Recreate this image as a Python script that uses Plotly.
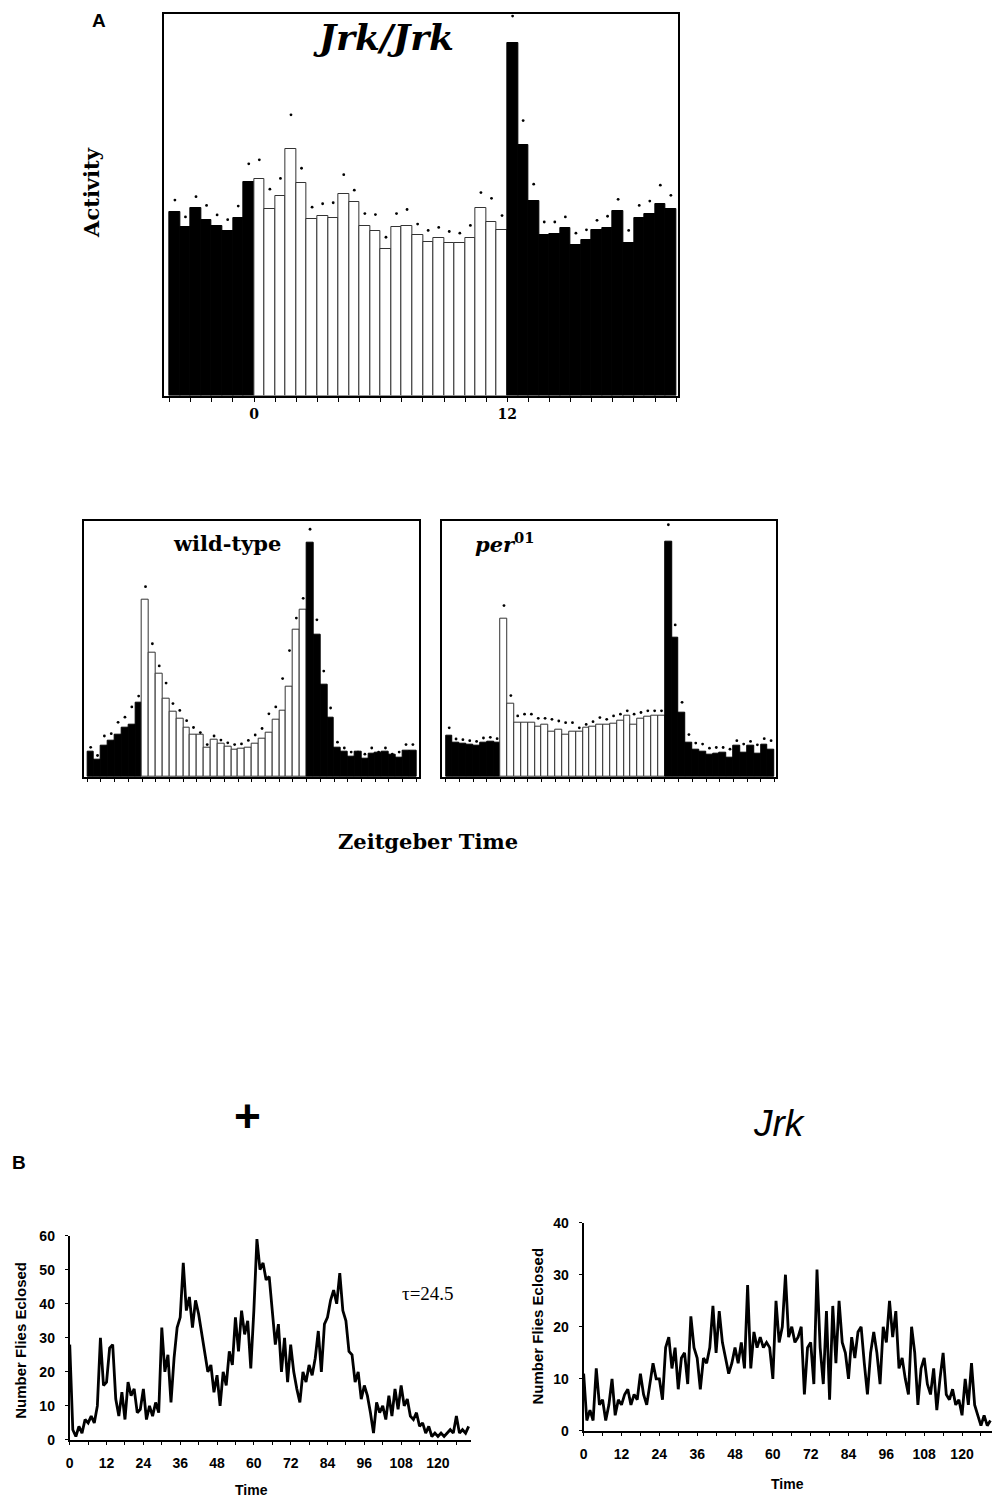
import plotly.graph_objects as go

# ---------------- Panel A data (half-hour bins, Zeitgeber time -4 .. 20) ----------------
zt_bins = [-4 + 0.25 + 0.5 * i for i in range(48)]

jrk_activity = [54.3, 49.8, 55.5, 52.0, 50.2, 48.5, 52.5, 63.1,
                64.0, 55.2, 59.0, 73.0, 62.7, 52.2, 53.0, 52.5, 59.7, 57.2, 50.0, 48.7,
                43.3, 49.7, 50.2, 47.4, 45.3, 46.7, 45.2, 45.2, 46.7, 55.3, 51.3, 48.8,
                104.2, 74.0, 57.5, 47.5, 47.8, 49.5, 44.5, 46.0, 49.0, 49.5, 54.5, 45.0,
                52.5, 53.8, 56.7, 55.0]
jrk_err = [57.8, 52.8, 58.8, 56.2, 53.4, 52.0, 56.0, 68.5,
           69.7, 61.0, 64.2, 83.0, 67.2, 55.7, 56.7, 57.0, 65.3, 60.7, 53.8, 53.5,
           46.8, 53.8, 55.0, 50.7, 48.8, 49.7, 48.5, 48.0, 50.3, 60.0, 58.3, 53.2,
           112.2, 81.3, 62.5, 51.3, 51.3, 52.8, 48.0, 49.0, 51.8, 53.0, 58.0, 48.8,
           56.2, 57.5, 62.2, 59.2]

wt_activity = [7.5, 5.2, 9.2, 10.5, 12.5, 14.5, 15.3, 21.7,
               52.0, 36.3, 30.2, 23.0, 19.0, 17.0, 14.5, 12.5, 12.5, 8.5, 11.0, 9.7,
               9.0, 8.0, 8.2, 8.7, 9.7, 11.3, 13.0, 16.7, 19.5, 26.5, 43.0, 49.0,
               68.5, 41.7, 27.0, 17.3, 8.5, 7.3, 6.0, 7.3, 5.5, 6.7, 7.0, 7.3,
               6.5, 5.8, 7.7, 7.7]
wt_err = [8.7, 6.3, 12.0, 12.7, 16.0, 17.5, 20.5, 23.7,
          55.7, 39.0, 32.5, 27.5, 21.5, 19.5, 16.5, 14.5, 13.0, 9.5, 12.0, 10.8,
          10.0, 9.5, 9.7, 10.7, 12.3, 14.2, 18.5, 20.5, 28.8, 37.0, 46.5, 52.3,
          72.5, 46.0, 31.0, 20.2, 10.2, 8.5, 7.3, 7.3, 6.7, 8.5, 7.3, 8.5,
          6.7, 7.3, 9.5, 9.5]

per_activity = [12.3, 10.0, 9.7, 9.5, 9.2, 10.2, 10.5, 10.0,
                46.7, 21.5, 16.0, 16.0, 16.0, 14.9, 15.5, 13.5, 14.0, 12.5, 13.5, 13.3,
                14.5, 14.9, 15.3, 15.5, 15.7, 16.5, 18.0, 15.3, 17.3, 17.7, 18.0, 18.0,
                69.3, 41.0, 19.0, 10.2, 8.0, 7.5, 6.5, 7.0, 7.3, 5.7, 9.3, 7.3,
                9.3, 7.0, 9.5, 8.0]
per_err = [14.5, 11.2, 11.0, 10.7, 10.5, 11.5, 11.7, 11.3,
           50.5, 24.0, 18.0, 18.5, 18.5, 17.3, 17.3, 17.0, 16.5, 16.0, 16.0, 14.5,
           15.5, 16.3, 17.5, 17.0, 18.0, 18.5, 19.5, 18.5, 19.0, 19.5, 19.5, 19.5,
           74.3, 44.8, 22.0, 12.5, 10.0, 9.7, 8.5, 8.7, 8.7, 8.2, 10.7, 9.7,
           10.5, 9.5, 11.3, 10.7]

# ---------------- Panel B data (eclosion, hourly) ----------------
time_hours_wt = list(range(0, 131))
eclosed_wt = [28, 3, 1, 4, 2, 6, 5, 7, 5, 10, 30, 16, 17, 27, 28, 12, 7, 14, 6, 17,
              13, 15, 8, 9, 15, 6, 10, 7, 11, 8, 33, 20, 25, 11, 24, 33, 36, 52, 38, 42,
              33, 41, 37, 31, 25, 20, 22, 14, 19, 10, 20, 16, 26, 22, 36, 26, 38, 31, 35, 21,
              38, 59, 50, 52, 47, 48, 38, 28, 34, 20, 30, 17, 28, 20, 15, 11, 20, 17, 22, 19,
              24, 32, 20, 34, 36, 41, 44, 40, 49, 38, 35, 26, 25, 17, 20, 12, 16, 13, 8, 2,
              11, 8, 10, 6, 13, 7, 15, 9, 16, 10, 12, 7, 6, 8, 4, 5, 2, 4, 1, 2,
              1, 2, 1, 2, 3, 2, 7, 2, 3, 2, 4]

time_hours_jrk = list(range(0, 130))
eclosed_jrk = [11, 2, 4, 2, 12, 5, 6, 2, 5, 10, 3, 6, 5, 7, 8, 5, 7, 6, 11, 7,
               5, 9, 13, 10, 10, 6, 16, 18, 12, 16, 8, 14, 15, 9, 22, 16, 14, 8, 14, 13,
               16, 24, 15, 23, 17, 14, 11, 13, 16, 13, 17, 12, 28, 12, 19, 16, 18, 16, 17, 16,
               10, 25, 17, 20, 30, 18, 20, 17, 18, 20, 7, 16, 17, 9, 31, 16, 9, 23, 6, 24,
               13, 25, 17, 15, 10, 18, 14, 19, 20, 13, 7, 15, 19, 15, 9, 20, 17, 25, 18, 23,
               12, 14, 10, 7, 20, 15, 5, 12, 14, 9, 7, 12, 4, 10, 15, 7, 6, 8, 5, 6,
               3, 10, 5, 13, 5, 3, 1, 3, 1, 2]

hour_ticks = list(range(-4, 21))
b_ticks = list(range(0, 127, 6))

W, H = 992, 1500


def fx(px):
    return min(1.0, max(0.0, (px - 2) / W))


def fy(py):
    # small vertical correction so the rendered page matches the reference positions
    return min(1.0, max(0.0, 1 - ((py - 10) / 0.988) / H))


def bar_colors(bins):
    return ["black" if (b < 0 or b >= 12) else "white" for b in bins]


def bar_edges(bins):
    return ["black" if (b < 0 or b >= 12) else "#333333" for b in bins]


fig = go.Figure()

panels = [
    ("x", "y", jrk_activity, jrk_err),
    ("x2", "y2", wt_activity, wt_err),
    ("x3", "y3", per_activity, per_err),
]
for xa, ya, vals, errs in panels:
    fig.add_trace(go.Bar(x=zt_bins, y=vals, width=0.5, xaxis=xa, yaxis=ya,
                         marker=dict(color=bar_colors(zt_bins),
                                     line=dict(color=bar_edges(zt_bins), width=1)),
                         showlegend=False))
    fig.add_trace(go.Scatter(x=zt_bins, y=errs, mode="markers", xaxis=xa, yaxis=ya,
                             marker=dict(color="black", size=2.8), cliponaxis=False,
                             showlegend=False))

fig.add_trace(go.Scatter(x=time_hours_wt, y=eclosed_wt, mode="lines", xaxis="x4", yaxis="y4",
                         line=dict(color="black", width=2.8), showlegend=False))
fig.add_trace(go.Scatter(x=time_hours_jrk, y=eclosed_jrk, mode="lines", xaxis="x5", yaxis="y5",
                         line=dict(color="black", width=2.8), showlegend=False))

box = dict(showline=True, mirror=True, linecolor="black", linewidth=1.5,
           showgrid=False, zeroline=False)

serif_tick = dict(family="DejaVu Serif", size=14, color="black", weight="bold")
sans_tick = dict(family="Liberation Sans", size=14, color="black", weight="bold")
plain_axis = dict(showline=True, linecolor="black", linewidth=2, showgrid=False, zeroline=False)

layout = dict(
    width=W, height=H, paper_bgcolor="white", plot_bgcolor="white",
    margin=dict(l=0, r=0, t=0, b=0), bargap=0, showlegend=False,
    xaxis=dict(domain=[fx(163), fx(679)], range=[-4.25, 20.1], anchor="y",
               tickvals=hour_ticks,
               ticktext=["0" if t == 0 else ("12" if t == 12 else "") for t in hour_ticks],
               ticks="outside", ticklen=5, tickcolor="black", tickfont=serif_tick, **box),
    yaxis=dict(domain=[fy(397), fy(16)], range=[0, 112.8], anchor="x",
               showticklabels=False, ticks="", **box),
    xaxis2=dict(domain=[fx(82), fx(419)], range=[-4.26, 20.22], anchor="y2",
                tickvals=hour_ticks, showticklabels=False,
                ticks="outside", ticklen=3, tickcolor="black", **box),
    yaxis2=dict(domain=[fy(778), fy(522)], range=[0, 75], anchor="x2",
                showticklabels=False, ticks="", **box),
    xaxis3=dict(domain=[fx(442), fx(777)], range=[-4.26, 20.1], anchor="y3",
                tickvals=hour_ticks, showticklabels=False,
                ticks="outside", ticklen=3, tickcolor="black", **box),
    yaxis3=dict(domain=[fy(778), fy(522)], range=[0, 75.5], anchor="x3",
                showticklabels=False, ticks="", **box),
    xaxis4=dict(domain=[fx(68), fx(471)], range=[0, 130.8], anchor="y4",
                tickvals=b_ticks,
                ticktext=[str(t) if t % 12 == 0 else "" for t in b_ticks],
                ticks="outside", ticklen=3, tickcolor="black", tickfont=sans_tick,
                ticklabelstandoff=6, **plain_axis),
    yaxis4=dict(domain=[fy(1440), fy(1236)], range=[0, 60], anchor="x4",
                tickvals=[0, 10, 20, 30, 40, 50, 60],
                ticks="outside", ticklen=3, tickcolor="black", tickfont=sans_tick,
                ticklabelstandoff=7, **plain_axis),
    xaxis5=dict(domain=[fx(584), 1.0], range=[0, 129.5], anchor="y5",
                tickvals=b_ticks,
                ticktext=[str(t) if t % 12 == 0 else "" for t in b_ticks],
                ticks="outside", ticklen=3, tickcolor="black", tickfont=sans_tick,
                ticklabelstandoff=6, **plain_axis),
    yaxis5=dict(domain=[fy(1431), fy(1223)], range=[0, 40], anchor="x5",
                tickvals=[0, 10, 20, 30, 40],
                ticks="outside", ticklen=3, tickcolor="black", tickfont=sans_tick,
                ticklabelstandoff=7, **plain_axis),
)
fig.update_layout(**layout)


def ann(text, px, py, size, family, bold=True, italic=False, angle=0):
    fig.add_annotation(text=text, x=fx(px), y=fy(py), xref="paper", yref="paper",
                       showarrow=False, xanchor="center", yanchor="middle", textangle=angle,
                       font=dict(size=size, family=family, color="black",
                                 weight="bold" if bold else "normal",
                                 style="italic" if italic else "normal"))


ann("A", 97, 22, 19, "Liberation Sans")
ann("Activity", 90, 194, 21, "DejaVu Serif", angle=-90)
ann("Jrk/Jrk", 383, 39, 36, "DejaVu Serif", italic=True)
ann("wild-type", 226, 545, 21, "DejaVu Serif")
ann("<i>per</i><sup style='font-size:70%'>01</sup>", 505, 544, 21, "DejaVu Serif")
ann("Zeitgeber Time", 428, 842, 21, "DejaVu Serif")
ann("B", 17, 1163, 19, "Liberation Sans")
ann("+", 246, 1117, 46, "Liberation Sans")
ann("Jrk", 781, 1124, 37, "Liberation Sans", bold=False, italic=True)
ann("τ=24.5", 428, 1294, 19, "Liberation Serif", bold=False)
ann("Number Flies Eclosed", 19, 1340, 15, "Liberation Sans", angle=-90)
ann("Number Flies Eclosed", 538, 1326, 15, "Liberation Sans", angle=-90)
ann("Time", 250, 1490, 14, "Liberation Sans")
ann("Time", 789, 1484, 14, "Liberation Sans")

fig.write_html("out.html", config={"displayModeBar": False},
               post_script="document.body.style.margin='0px';"
                           "document.body.style.overflow='hidden';"
                           "document.documentElement.style.overflow='hidden';")
